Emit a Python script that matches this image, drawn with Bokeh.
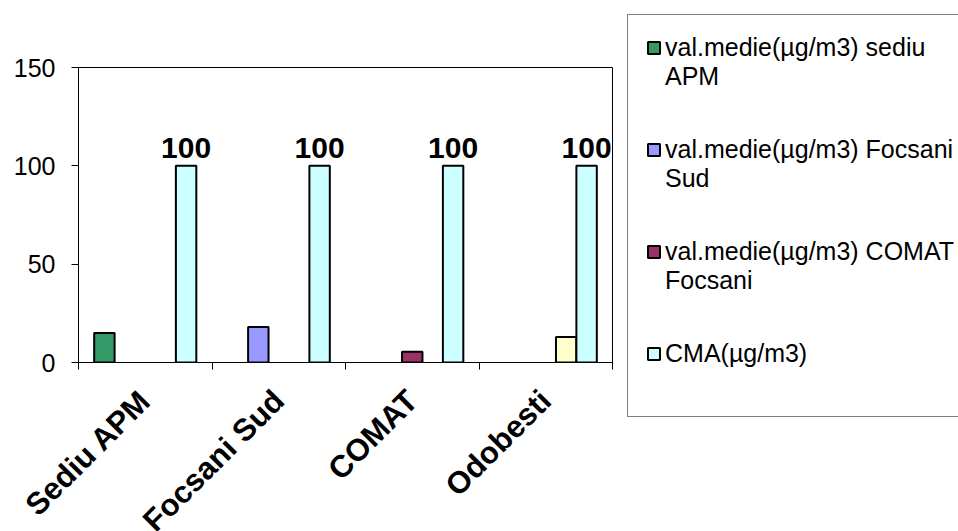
import math
import numpy as np
from bokeh.plotting import figure
from bokeh.models import Range1d, FixedTicker, Legend, LegendItem
from bokeh.embed import file_html
from bokeh.resources import INLINE
from bokeh.core.properties import value

# ---- data ----
categories = ["Sediu APM", "Focsani Sud", "COMAT", "Odobesti"]
# legend text: (first line, continuation line)
legend_labels = [
    ("val.medie(µg/m3) sediu", "APM"),
    ("val.medie(µg/m3) Focsani", "Sud"),
    ("val.medie(µg/m3) COMAT", "Focsani"),
    None,
    ("CMA(µg/m3)", None),
]
val_sediu_apm = [15, None, None, None]
val_focsani_sud = [None, 18, None, None]
val_comat = [None, None, 5.5, None]
val_odobesti = [None, None, None, 13]
cma = [100, 100, 100, 100]
y_ticks = [0, 50, 100, 150]

series = [val_sediu_apm, val_focsani_sud, val_comat, val_odobesti, cma]
colors = ["#339966", "#9999FF", "#993366", "#FFFFCC", "#CCFFFF"]

FONT = "Liberation Sans"

n = len(categories)
centers = np.arange(n) + 0.5
bar_w = 0.153
offsets = [(k - (len(series) - 1) / 2) * bar_w for k in range(len(series))]
tops = [np.array([np.nan if v is None else v for v in vals], dtype=float) for vals in series]

p = figure(
    frame_width=534, frame_height=295,
    min_border_left=78, min_border_top=67, min_border_right=346, min_border_bottom=0,
    x_range=Range1d(0, n), y_range=Range1d(0, 150),
    output_backend="svg", toolbar_location=None,
)
p.background_fill_color = "white"
p.border_fill_color = "white"
p.outline_line_color = "black"
p.outline_line_width = 1
p.xgrid.visible = False
p.ygrid.visible = False

renderers = []
for top, col, off in zip(tops, colors, offsets):
    r = p.vbar(x=centers + off, top=top, bottom=0, width=bar_w,
               fill_color=col, line_color="black", line_width=2)
    renderers.append(r)

# invisible renderer used for continuation / spacer lines of the legend
blank = p.vbar(x=[], top=[], width=bar_w, fill_alpha=0, line_alpha=0)

# data labels on CMA bars
p.text(x=centers + offsets[-1], y=cma, text=[str(v) for v in cma],
       text_align="center", text_baseline="alphabetic", y_offset=-18,
       text_font=value(FONT), text_font_style="bold", text_font_size="30px",
       text_color="black")

# y axis
p.yaxis.ticker = FixedTicker(ticks=y_ticks)
p.yaxis.major_tick_out = 7
p.yaxis.major_tick_in = 0
p.yaxis.minor_tick_line_color = None
p.yaxis.major_label_standoff = 16
p.yaxis.major_label_text_font = FONT
p.yaxis.major_label_text_font_size = "25px"
p.yaxis.major_label_text_color = "black"
p.yaxis.axis_line_color = "black"
p.yaxis.major_tick_line_color = "black"

# x axis: labels at centres, tick marks at category boundaries
p.xaxis.ticker = FixedTicker(ticks=list(centers), minor_ticks=list(range(n + 1)))
p.xaxis.major_label_overrides = {float(c): name for c, name in zip(centers, categories)}
p.xaxis.major_tick_line_color = None
p.xaxis.major_tick_out = 0
p.xaxis.major_tick_in = 0
p.xaxis.minor_tick_out = 7
p.xaxis.minor_tick_in = 0
p.xaxis.minor_tick_line_color = "black"
p.xaxis.major_label_orientation = math.pi / 4
p.xaxis.major_label_standoff = 26
p.xaxis.major_label_text_font = FONT
p.xaxis.major_label_text_font_style = "bold"
p.xaxis.major_label_text_font_size = "31px"
p.xaxis.major_label_text_color = "black"
p.xaxis.axis_line_color = "black"

# ---- legend (right panel) ----
items = []
for lab, r in zip(legend_labels, renderers):
    if lab is None:
        continue
    first, second = lab
    items.append(LegendItem(label=first, renderers=[r]))
    if second is not None:
        items.append(LegendItem(label=second + "\n ", renderers=[blank]))
        items.append(LegendItem(label=" ", renderers=[blank]))
    else:
        items.append(LegendItem(label=" ", renderers=[blank]))
        items.append(LegendItem(label=" ", renderers=[blank]))

legend = Legend(items=items, location=(15, -55))
legend.margin = 0
legend.label_text_font = FONT
legend.label_text_font_size = "25px"
legend.label_text_color = "black"
legend.label_height = 14
legend.glyph_width = 15
legend.glyph_height = 15
legend.label_standoff = 4
legend.padding = 18
legend.spacing = -5
legend.border_line_color = "black"
legend.border_line_width = 1
legend.background_fill_color = "white"
legend.background_fill_alpha = 1
p.add_layout(legend, "right")

open("out.html", "w").write(file_html(p, INLINE))
